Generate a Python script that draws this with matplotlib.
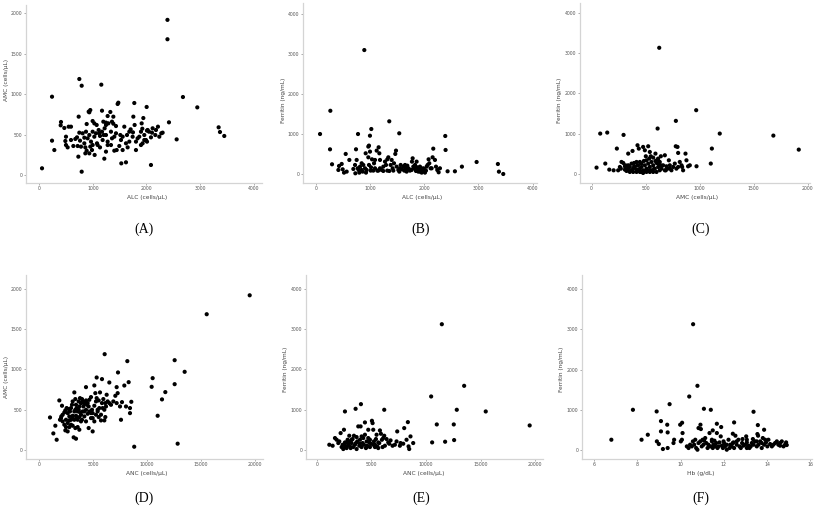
import matplotlib
matplotlib.use("Agg")
import matplotlib.pyplot as plt

# ---------------- Data ----------------
# (A) ALC vs AMC
alc_a = [750, 794, 1159, 242, 2678, 2945, 1476, 1463, 1773, 2003, 3342, 3367, 3447, 56, 794, 2083, 1531, 1618,
         2561, 2418, 2390, 2390,
         924, 954, 936, 1172, 1327, 738, 1383, 1277, 409, 403, 471, 552, 595, 887, 998, 1029, 1073, 1197, 1246, 1290,
         1358, 1383, 1432, 1587, 1755, 1941, 1779, 1910, 1705, 1748, 1922, 2009, 2046, 2114, 2102, 2213, 2275, 2238,
         2164, 1959, 1990, 1928, 1897, 1866, 1804, 1680, 1618, 1525, 1432, 1339, 1221, 1172, 1110, 1060, 998, 936,
         874, 812, 750, 676, 707, 763, 843, 905, 967, 998, 1079, 1135, 1184, 1277, 1339, 1401, 1513, 1556, 1637, 502,
         490, 533, 242, 285, 719, 781, 862, 887, 936, 986, 1035, 1091, 1246, 1401, 1445, 1556, 1649, 1804, 1215, 732,
         862, 1135, 1742, 1835, 1246, 1029, 1494, 502, 595, 639, 1246, 1680, 1959, 2009, 2083, 1277, 1358, 843, 954,
         1897, 2021, 2176, 2300, 1203, 1122]
amc_a = [1188, 1105, 1118, 969, 965, 837, 895, 879, 891, 842, 590, 532, 483, 83, 41, 124, 144, 157,
         441, 652, 1920, 1680,
         784, 804, 776, 796, 780, 722, 722, 730, 656, 615, 582, 598, 598, 631, 668, 639, 619, 660, 619, 639,
         660, 635, 606, 598, 722, 705, 619, 639, 565, 528, 573, 549, 536, 578, 524, 598, 516, 474,
         495, 495, 433, 392, 371, 474, 413, 413, 392, 433, 516, 536, 578, 536, 557, 516, 536, 495,
         536, 516, 524, 446, 466, 425, 392, 454, 413, 371, 392, 483, 433, 413, 371, 474, 495, 474, 495, 474,
         421, 342, 425, 309, 359, 351, 342, 301, 268, 309, 248, 371, 289, 301, 309, 309, 342, 309, 202, 227,
         268, 342, 474, 454, 495, 474, 359, 371, 433, 359, 648, 536, 433, 413, 466, 371, 454, 462, 351,
         536, 557, 557, 524, 495, 516]

# (B) ALC vs Ferritin
alc_b = [270, 80, 264, 780, 1000, 1025, 1356, 1540, 2388, 2394, 2167, 2966, 3358, 3377, 3457, 2695, 2566, 2431,
         2290, 896,
         301, 430, 479, 497, 522, 553, 620, 694, 725, 743, 755, 774, 792, 817, 847, 866, 878, 909, 921, 939, 970,
         982, 982, 1001, 1019, 1038, 1062, 1075, 1093, 1124, 1136, 1160, 1173, 1185, 1216, 1246, 1277, 1296, 1320,
         1339, 1357, 1382, 1400, 1418, 1443, 1467, 1480, 1492, 1523, 1541, 1566, 1590, 1615, 1633, 1664, 1689,
         1725, 1738, 1774, 1787, 1811, 1830, 1848, 1860, 1873, 1897, 1922, 1940, 1959, 1983, 1996, 2014, 2032,
         2063, 2081, 2094, 2118, 2155, 2198, 2217, 2241, 2266, 1830, 1768, 1891, 1953, 1676, 1553, 1320, 1246,
         1154, 1013, 927, 804, 731, 571, 418, 970, 1093, 1185, 847, 1431, 1646, 1707, 1799, 1922, 1983, 2045, 2137]
fer_b = [1585, 1005, 623, 1005, 963, 1130, 1322, 1023, 956, 607, 640, 307, 257, 66, 8, 191, 75, 75,
         150, 3100,
         250, 208, 258, 125, 42, 508, 358, 133, 233, 624, 358, 150, 108, 191, 275, 67, 233, 150, 524, 108, 691,
         716, 233, 566, 175, 374, 92, 275, 150, 591, 92, 674, 524, 150, 108, 191, 316, 233, 374,
         424, 83, 233, 358, 150, 275, 508, 591, 191, 108, 67, 233, 125, 191, 92, 150, 216,
         125, 92, 316, 399, 150, 233, 83, 316, 175, 125, 67, 150, 108, 92, 125, 42, 92,
         233, 374, 275, 150, 424, 358, 191, 108, 50, 191, 108, 67, 42, 67, 150, 92, 83,
         92, 92, 42, 42, 25, 67, 108, 424, 358, 358, 108, 92, 233, 150, 191, 191, 150, 191, 150]

# (C) AMC vs Ferritin
amc_c = [968, 780, 611, 80, 145, 296, 1186, 1682, 1917, 1113, 1103, 971, 234, 46, 127, 164, 204, 626,
         339, 379, 425, 437, 477, 524, 493, 539, 591, 678, 641, 616, 570, 533, 508, 484, 447, 416, 394, 370, 339,
         308, 277, 293, 262, 246, 271, 308, 333, 354, 370, 385, 400, 416, 431, 447, 462, 477, 493, 508, 524, 539,
         554, 570, 585, 601, 616, 631, 647, 662, 678, 693, 715, 724, 739, 770, 785, 801, 816, 832, 847, 869, 878,
         893, 795, 801, 779, 687, 702, 631, 601, 570, 539, 508, 477, 447, 416, 385, 354, 323, 431, 462, 493, 524,
         579, 724, 641, 616, 591, 554, 462, 425, 394, 339, 610, 502, 548, 755, 838, 909, 314]
fer_c = [1582, 1317, 1127, 1002, 1027, 969, 1002, 952, 604, 630, 258, 191, 630, 158, 258, 108, 91, 3130,
         505, 571, 712, 629, 671, 687, 588, 546, 505, 464, 439, 381, 406, 381, 339, 323, 298, 298, 273, 257, 215,
         190, 298, 273, 174, 91, 132, 108, 132, 174, 91, 132, 174, 108, 215, 132, 174, 91, 215, 132, 257, 174,
         91, 215, 132, 273, 174, 298, 132, 215, 91, 190, 339, 215, 91, 257, 132, 174, 298, 215, 91, 505, 339,
         190, 671, 522, 687, 91, 132, 91, 50, 50, 50, 50, 25, 50, 50, 50, 50, 75, 91, 50, 75, 91,
         132, 132, 215, 257, 323, 298, 257, 215, 190, 91, 356, 439, 439, 174, 174, 215, 215]

# (D) ANC vs AMC
anc_d = [19509, 15528, 6079, 8178, 12560, 13486, 7314, 10523, 10431, 12560, 11696, 11388, 10987, 8816, 12838,
         5339, 5832, 1018, 1512, 1327, 1636, 3209, 3425, 7592, 8425, 8548, 8302, 7900, 7190, 6511, 4351, 5123,
         1882, 2129, 1944, 2037, 2191, 2345, 2438, 2561, 2654, 2747, 2808, 2870, 2963, 3055, 3117, 3271, 3364,
         3425, 3487, 3580, 3672, 3734, 3796, 3888, 3981, 4043, 4104, 4197, 4290, 4351, 4444, 4506, 4598, 4660,
         4814, 4907, 4968, 5123, 5215, 5277, 5339, 5431, 5524, 5586, 5647, 5740, 5833, 5894, 5956, 6049, 6141,
         6203, 6265, 6357, 6511, 6666, 6882, 7067, 7190, 7283, 7499, 7684, 8054, 8425,
         2191, 2345, 2438, 2500, 2654, 2808, 2963, 3117, 3271, 3364, 3487, 3580, 3734, 3888, 3981, 4197, 4351,
         4598, 4814, 4968, 5123, 5277, 5431, 5524, 5740, 6049, 6141, 3117, 3271, 3425, 3580, 3734, 3888, 4043,
         4197, 4351, 4506, 4660, 4814, 4968, 2808, 2654, 3117, 3364, 3672, 3796, 2963, 2068, 2500]
amc_d = [1925, 1689, 1191, 1104, 1116, 971, 963, 892, 784, 817, 718, 627, 423, 37, 75,
         900, 880, 402, 299, 203, 124, 154, 137, 373, 456, 597, 842, 800, 780, 838, 780, 801,
         614, 548, 373, 394, 436, 465, 490, 519, 456, 506, 415, 477, 519, 560, 602, 714, 631,
         560, 519, 477, 498, 539, 465, 581, 631, 602, 539, 573, 589, 614, 560, 581, 539, 622,
         656, 498, 456, 548, 705, 602, 643, 477, 614, 519, 714, 436, 581, 519, 631, 498, 581,
         539, 685, 602, 581, 560, 602, 672, 581, 705, 539, 593, 539, 519,
         353, 311, 241, 282, 332, 365, 311, 299, 373, 270, 394, 282, 249, 353, 373, 415, 353,
         270, 394, 228, 353, 436, 498, 407, 365, 365, 407, 423, 477, 423, 373, 407, 436, 477,
         477, 498, 448, 477, 456, 394, 282, 228, 394, 498, 602, 643, 373, 415, 373]

# (E) ANC vs Ferritin
anc_e = [11452, 13500, 10472, 12824, 15480, 19510, 10990, 12547, 10563, 11754, 12580, 6169, 2565, 3542, 4031,
         8337, 8001, 7360, 8578, 8215, 8399, 8826, 8460,
         1130, 1435, 1649, 1802, 1955, 2046, 2168, 2260, 2352, 2413, 2474, 2565, 2657, 2718, 2810, 2871, 2962,
         3023, 3085, 3176, 3268, 3329, 3390, 3482, 3573, 3634, 3695, 3787, 3879, 3940, 4001, 4092, 4184, 4245,
         4306, 4398, 4489, 4550, 4612, 4703, 4795, 4856, 4947, 5039, 5100, 5161, 5222, 5314, 5406, 5467, 5528,
         5619, 5711, 5772, 5864, 5955, 6016, 6077, 6169, 6230, 6383, 6536, 6627, 6749, 6933, 7146, 7299, 7604,
         7666, 7910, 4703, 4398, 4092, 3634, 3176, 2871, 2565, 3940, 4550, 5314, 2718, 3023, 5161, 5619, 4856]
fer_e = [3123, 1590, 1325, 994, 952, 604, 629, 629, 182, 199, 240, 994, 952, 1018, 1134,
         687, 538, 455, 331, 248, 83, 166, 17,
         124, 99, 290, 248, 166, 207, 414, 66, 124, 17, 497, 182, 66, 41, 248, 124, 348,
         83, 41, 166, 265, 66, 348, 124, 166, 17, 207, 580, 99, 248, 580, 66, 166, 290,
         124, 679, 41, 207, 99, 290, 182, 66, 149, 720, 662, 497, 207, 124, 265, 373, 83,
         182, 166, 480, 397, 248, 66, 290, 348, 99, 265, 182, 149, 232, 99, 124, 207, 99,
         166, 149, 497, 373, 331, 315, 248, 166, 99, 149, 66, 66, 182, 207, 124, 41, 248]

# (F) Hb vs Ferritin
hb_f = [10.58, 10.78, 10.40, 9.49, 7.79, 8.89, 11.08, 11.40, 13.38, 6.79, 8.19, 8.48,
        9.09, 9.38, 9.09, 9.40, 10.07, 9.98, 10.09, 10.92, 10.83, 10.94, 11.68, 11.88, 11.49, 12.48, 12.42,
        13.58, 13.87, 13.56, 13.59, 8.90, 8.99, 9.18, 9.40, 9.70, 9.67, 10.01, 10.06,
        10.29, 10.37, 10.44, 10.57, 10.63, 10.72, 10.78, 10.83, 10.91, 10.98, 11.06, 11.09, 11.19, 11.25, 11.29,
        11.37, 11.45, 11.49, 11.52, 11.60, 11.65, 11.71, 11.76, 11.80, 11.86, 11.91, 11.96, 11.99, 12.06, 12.14,
        12.22, 12.27, 12.30, 12.37, 12.45, 12.48, 12.54, 12.60, 12.68, 12.73, 12.79, 12.85, 12.91, 12.99, 13.04,
        13.07, 13.15, 13.19, 13.25, 13.30, 13.35, 13.38, 13.45, 13.53, 13.61, 13.69, 13.76, 13.81, 13.87, 13.92,
        13.96, 14.02, 14.07, 14.15, 14.23, 14.30, 14.38, 14.46, 14.53, 14.61, 14.69, 14.77, 14.84, 14.89, 14.92,
        11.68, 11.34, 11.14, 11.45, 12.14, 12.42, 12.60, 13.07, 13.53, 13.76, 14.61, 13.07, 10.52, 10.68, 11.02,
        11.57, 12.02, 12.87]
fer_f = [3127, 1596, 1330, 1140, 1000, 959, 1025, 1000, 951, 256, 256, 380,
         719, 629, 463, 438, 678, 629, 422, 629, 546, 521, 653, 571, 488, 686, 405,
         620, 504, 397, 356, 215, 149, 25, 50, 256, 174, 215, 256,
         91, 50, 132, 215, 132, 50, 8, 174, 215, 91, 132, 232, 174, 50, 132,
         91, 256, 50, 132, 91, 174, 50, 91, 190, 339, 108, 50, 215, 91, 132,
         256, 50, 132, 91, 190, 50, 356, 132, 256, 91, 50, 174, 108, 132, 339,
         190, 108, 50, 91, 174, 273, 132, 215, 91, 132, 215, 50, 298, 132, 256,
         190, 91, 256, 149, 91, 132, 174, 215, 132, 174, 215, 91, 132, 190, 124,
         422, 422, 298, 215, 8, 174, 215, 50, 215, 174, 108, 256, 91, 256, 256,
         232, 166, 273]

# ---------------- Figure ----------------
W, H = 824, 513
fig = plt.figure(figsize=(W / 100, H / 100), dpi=100)
fig.patch.set_facecolor("white")


def add_ax(left, top, right, bottom):
    return fig.add_axes([left / W, 1 - bottom / H, (right - left) / W, (bottom - top) / H])


def ftext(x, y, s, **kw):
    fig.text(x / W, 1 - y / H, s, **kw)


panels = [
    # (box, x, y, xlim, ylim, xticks, yticks, xlabel, ylabel, xlab_pos, ylab_pos, letter, letter_pos)
    ((26, 5, 262, 183), alc_a, amc_a, (-242, 4149), (-99, 2104), [0, 1000, 2000, 3000, 4000],
     [0, 500, 1000, 1500, 2000], "ALC (cells/μL)", "AMC (cells/μL)", (147, 198), (7, 80), "(A)", (144, 229)),
    ((303, 3, 537, 183), alc_b, fer_b, (-234, 4079), (-217, 4274), [0, 1000, 2000, 3000, 4000],
     [0, 1000, 2000, 3000, 4000], "ALC (cells/μL)", "Ferritin (ng/mL)", (422, 198), (284, 100), "(B)", (421, 229)),
    ((580, 3, 810, 183), amc_c, fer_c, (-107, 2021), (-224, 4241), [0, 500, 1000, 1500, 2000],
     [0, 1000, 2000, 3000, 4000], "AMC (cells/μL)", "Ferritin (ng/mL)", (697, 198), (559, 100), "(C)", (701, 229)),
    ((26, 275, 263, 459), anc_d, amc_d, (-1204, 20741), (-116, 2178), [0, 5000, 10000, 15000, 20000],
     [0, 500, 1000, 1500, 2000], "ANC (cells/μL)", "AMC (cells/μL)", (147, 473), (7, 377), "(D)", (144, 498)),
    ((306, 275, 543, 459), anc_e, fer_e, (-1008, 20733), (-231, 4348), [0, 5000, 10000, 15000, 20000],
     [0, 1000, 2000, 3000, 4000], "ANC (cells/μL)", "Ferritin (ng/mL)", (424, 474), (285, 369), "(E)", (421, 498)),
    ((582, 275, 812, 459), hb_f, fer_f, (5.43, 16.09), (-223, 4350), [6, 8, 10, 12, 14, 16],
     [0, 1000, 2000, 3000, 4000], "Hb (g/dL)", "Ferritin (ng/mL)", (701, 473), (561, 369), "(F)", (701, 498)),
]

for (box, xs, ys, xl, yl, xt, yt, xlab, ylab, xlp, ylp, letter, lp) in panels:
    ax = add_ax(*box)
    ax.scatter(xs, ys, s=9, c="black", edgecolors="none", zorder=3)
    ax.set_xlim(*xl)
    ax.set_ylim(*yl)
    ax.set_xticks(xt)
    ax.set_yticks(yt)
    ax.set_xticklabels([str(v) for v in xt])
    ax.set_yticklabels([str(v) for v in yt])
    for side in ("top", "right"):
        ax.spines[side].set_visible(False)
    for side in ("left", "bottom"):
        ax.spines[side].set_color("#d4d4d4")
        ax.spines[side].set_linewidth(0.9)
    ax.tick_params(axis="both", labelsize=3.3, labelcolor="#555555", color="#888888",
                   length=1.5, width=0.5, pad=1.0)
    ax.set_facecolor("white")
    ftext(xlp[0], xlp[1], xlab, fontsize=4.2, color="#444444", ha="center", va="center")
    ftext(ylp[0], ylp[1], ylab, fontsize=4.2, color="#444444", ha="center", va="center", rotation=90)
    ftext(lp[0], lp[1], letter, fontsize=10, family="Liberation Serif", color="black",
          ha="center", va="center")

fig.savefig("out.png", dpi=100, facecolor="white")
